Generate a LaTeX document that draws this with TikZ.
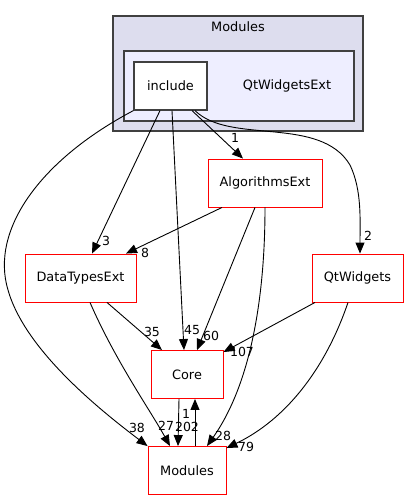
\documentclass[tikz,border=0pt]{standalone}
\usepackage{fontspec}
\setmainfont{DejaVu Sans}
\usepackage{xcolor}
\usetikzlibrary{arrows.meta,positioning,calc}
\definecolor{clusterout}{HTML}{DDDDEE}
\definecolor{clusterin}{HTML}{EEEEFF}
\definecolor{clusterline}{HTML}{404040}

\begin{document}
\begin{tikzpicture}[x=1pt, y=-1pt,
    dirnode/.style={draw=red, line width=0.9pt, fill=white, minimum height=48pt, inner sep=0pt, font=\fontsize{12.9}{15}\selectfont},
    dep/.style={-{Triangle[length=11pt,width=9pt]}, line width=0.9pt},
    lbl/.style={inner sep=0pt, font=\fontsize{12.5}{14}\selectfont}]
    \useasboundingbox (0,0) rectangle (408,500);
    % clusters
    \draw[fill=clusterout, draw=clusterline, line width=1.2pt] (113,16) rectangle (363,131);
    \node[lbl, font=\fontsize{12.9}{15}\selectfont] (modtitle) at (238,27) {Modules};
    \draw[fill=clusterin, draw=clusterline, line width=1.2pt] (124,51) rectangle (354,121);
    \node[lbl, font=\fontsize{12.9}{15}\selectfont] (qwetitle) at (287,86) {QtWidgetsExt};
    % directories
    \node[dirnode, draw=clusterline, line width=1.2pt, minimum width=73pt] (incl) at (170.5,86) {include};
    \node[dirnode, minimum width=114pt] (algext) at (265,183) {AlgorithmsExt};
    \node[dirnode, minimum width=111pt] (dtext) at (80.5,278) {DataTypesExt};
    \node[dirnode, minimum width=91pt] (qtw) at (357.5,278) {QtWidgets};
    \node[dirnode, minimum width=72pt] (core) at (187,374.5) {Core};
    \node[dirnode, minimum width=78pt] (mods) at (187,470.5) {Modules};
    % dependencies of include
    \draw[dep] (incl.south west) .. controls (40,160) and (-10,230) .. (8,290)
        .. controls (25,350) and (100,410) .. (mods.north west) node[lbl] at (137,428) {38};
    \draw[dep] ([xshift=-10.5pt]incl.south) -- ([xshift=11.5pt]dtext.north) node[lbl] at (106,241) {3};
    \draw[dep] ([xshift=1.5pt]incl.south) -- ([xshift=-3pt]core.north) node[lbl] at (192,330) {45};
    \draw[dep] ([xshift=21.5pt]incl.south) -- ([xshift=-22pt]algext.north) node[lbl] at (235,138) {1};
    \draw[dep] ([xshift=24.5pt]incl.south) .. controls (230,145) and (320,115) .. (350,165)
        .. controls (362,190) and (360,220) .. ([xshift=2.5pt]qtw.north) node[lbl] at (368,236) {2};
    % dependencies of AlgorithmsExt
    \draw[dep] ([xshift=-43pt]algext.south) -- ([xshift=45.5pt]dtext.north) node[lbl] at (145,253) {8};
    \draw[dep] ([xshift=-10pt]algext.south) -- ([xshift=10pt]core.north) node[lbl] at (211,336) {60};
    \draw[dep] (algext.south) .. controls (265,300) and (250,385) .. ([xshift=20pt]mods.north) node[lbl] at (223,436) {28};
    % dependencies of DataTypesExt
    \draw[dep] ([xshift=26.5pt]dtext.south) -- ([xshift=-25pt]core.north) node[lbl] at (152,332) {35};
    \draw[dep] ([xshift=9.5pt]dtext.south) .. controls (115,360) and (150,410) .. ([xshift=-17pt]mods.north) node[lbl] at (166,426) {27};
    % dependencies of QtWidgets
    \draw[dep] ([xshift=-42.5pt]qtw.south) -- ([yshift=-2pt]core.north east) node[lbl] at (242,352) {107};
    \draw[dep] ([xshift=-9.5pt]qtw.south) .. controls (325,370) and (285,420) .. ([yshift=-2pt]mods.north east) node[lbl] at (246,447) {79};
    % Core and Modules
    \draw[dep] ([xshift=-8pt]core.south) -- ([xshift=-9pt]mods.north) node[lbl] at (187,427) {202};
    \draw[dep] ([xshift=8pt]mods.north) -- ([xshift=8pt]core.south) node[lbl] at (186,414) {1};
\end{tikzpicture}
\end{document}
